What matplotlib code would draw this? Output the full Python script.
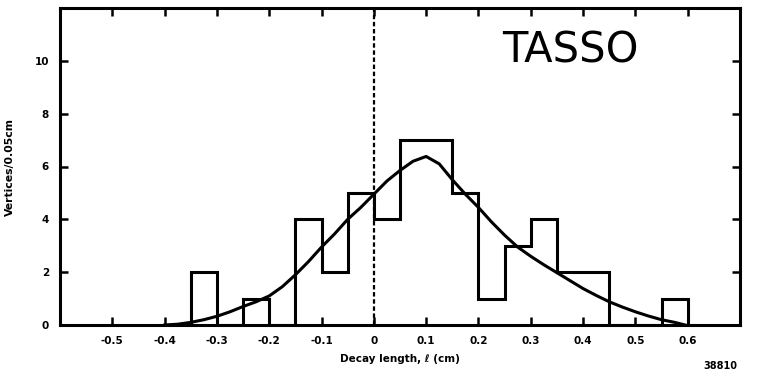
import matplotlib
matplotlib.use("Agg")
import matplotlib.pyplot as plt

# Histogram: bin edges (cm) and counts per 0.05 cm bin
bin_edges = [-0.35, -0.30, -0.25, -0.20, -0.15, -0.10, -0.05, 0.00, 0.05, 0.10,
             0.15, 0.20, 0.25, 0.30, 0.35, 0.40, 0.45, 0.50, 0.55, 0.60]
counts = [2, 0, 1, 0, 4, 2, 5, 4, 7, 7, 5, 1, 3, 4, 2, 2, 0, 0, 1]

# Fit curve
curve_x = [-0.40, -0.375, -0.35, -0.325, -0.30, -0.275, -0.25, -0.225, -0.20, -0.175,
           -0.15, -0.125, -0.10, -0.075, -0.05, -0.025, 0.00, 0.025, 0.05, 0.075,
           0.10, 0.125, 0.15, 0.175, 0.20, 0.225, 0.25, 0.275, 0.30, 0.325,
           0.35, 0.375, 0.40, 0.425, 0.45, 0.475, 0.50, 0.525, 0.55, 0.575, 0.595]
curve_y = [0.0, 0.03, 0.1, 0.2, 0.33, 0.5, 0.7, 0.88, 1.1, 1.45,
           1.9, 2.4, 2.95, 3.45, 4.0, 4.45, 4.95, 5.45, 5.85, 6.2,
           6.38, 6.1, 5.5, 4.95, 4.45, 3.9, 3.4, 2.95, 2.6, 2.28,
           1.98, 1.68, 1.38, 1.12, 0.88, 0.68, 0.5, 0.34, 0.2, 0.1, 0.0]

x_ticks = [-0.5, -0.4, -0.3, -0.2, -0.1, 0.0, 0.1, 0.2, 0.3, 0.4, 0.5, 0.6]
x_tick_labels = ["-0.5", "-0.4", "-0.3", "-0.2", "-0.1", "0", "0.1", "0.2", "0.3", "0.4", "0.5", "0.6"]
y_ticks = [0, 2, 4, 6, 8, 10]
y_tick_labels = ["0", "2", "4", "6", "8", "10"]

fig = plt.figure(figsize=(7.58, 3.8), dpi=100)
ax = fig.add_axes([60/758, 55/380, 680/758, 317/380])

ax.stairs(counts, bin_edges, baseline=0, color="black", linewidth=2.2, fill=False)
ax.plot(curve_x, curve_y, color="black", linewidth=2.2)
ax.axvline(0.0, color="black", linestyle=(0, (2, 1.2)), linewidth=1.6)

ax.set_xlim(-0.6, 0.7)
ax.set_ylim(0, 12)
ax.set_xticks(x_ticks)
ax.set_xticklabels(x_tick_labels, fontsize=7.5, fontweight="heavy")
ax.set_yticks(y_ticks)
ax.set_yticklabels(y_tick_labels, fontsize=7.5, fontweight="heavy")
ax.tick_params(direction="in", length=6, width=1.8, top=True, right=True, pad=8)
for s in ax.spines.values():
    s.set_linewidth(2.2)

ax.set_xlabel("Decay length, \u2113 (cm)", fontsize=7.5, fontweight="heavy", labelpad=6)
ax.set_ylabel("Vertices/0.05cm", fontsize=7.8, fontweight="heavy", labelpad=14)

ax.text(0.375, 10.4, "TASSO", fontsize=30, fontweight="normal", ha="center", va="center",
        color="black")
fig.text(720/758, 1 - 366/380, "38810", fontsize=7, fontweight="heavy", ha="center", va="center")

fig.savefig("out.png", dpi=100)
